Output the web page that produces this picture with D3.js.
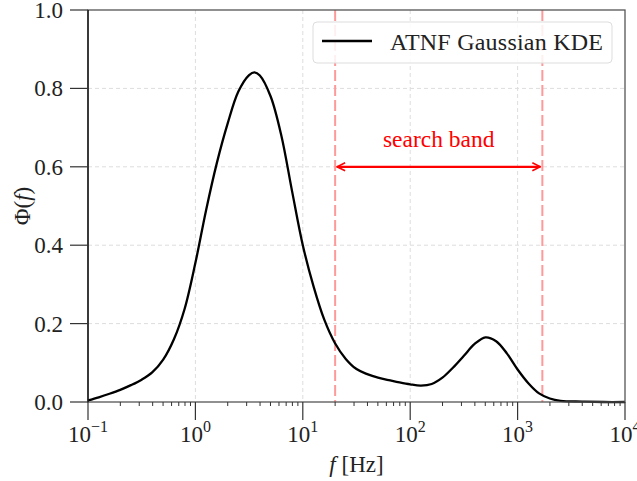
<!DOCTYPE html>
<html>
<head>
<meta charset="utf-8">
<script src="https://cdn.jsdelivr.net/npm/d3@7"></script>
<style>
  body { margin: 0; background: white; }
  svg text { font-family: "Liberation Serif", "DejaVu Serif", serif; }
</style>
</head>
<body>
<div id="chart"></div>
<script>
var width = 637;
var height = 481;
var margin = { left: 88, right: 12, top: 10, bottom: 79 };

// KDE curve: log10(f) and density
var logFreq = [-1.0, -0.9, -0.8, -0.7, -0.6, -0.5, -0.4, -0.3, -0.2, -0.1,
    0.0, 0.1, 0.2, 0.3, 0.4, 0.5, 0.55, 0.6, 0.7, 0.8,
    0.9, 1.0, 1.1, 1.2, 1.3, 1.4, 1.5, 1.6, 1.7, 1.8,
    1.9, 2.0, 2.1, 2.2, 2.3, 2.4, 2.5, 2.6, 2.7, 2.8,
    2.9, 3.0, 3.1, 3.2, 3.3, 3.4, 3.6, 3.8, 4.0];
var density = [0.004, 0.012, 0.021, 0.031, 0.043, 0.057, 0.076, 0.108, 0.160, 0.238,
    0.355, 0.490, 0.610, 0.710, 0.792, 0.834, 0.841, 0.833, 0.780, 0.680,
    0.538, 0.400, 0.295, 0.210, 0.150, 0.110, 0.084, 0.071, 0.062, 0.056,
    0.050, 0.045, 0.042, 0.046, 0.062, 0.088, 0.118, 0.148, 0.165, 0.155,
    0.124, 0.083, 0.048, 0.022, 0.009, 0.003, 0.001, 0.000, 0.000];

var bandLow = 20;
var bandHigh = 1700;
var xTickExp = [-1, 0, 1, 2, 3, 4];
var yTicks = [0.0, 0.2, 0.4, 0.6, 0.8, 1.0];

var svg = d3.select("#chart").append("svg")
    .attr("width", width)
    .attr("height", height)

var x = d3.scaleLog().domain([0.1, 10000]).range([margin.left, width - margin.right])
var y = d3.scaleLinear().domain([0, 1]).range([height - margin.bottom, margin.top])

var plotLeft = margin.left, plotRight = width - margin.right
var plotTop = margin.top, plotBottom = height - margin.bottom

// grid
svg.append("g").selectAll("line")
    .data(xTickExp.slice(1, -1))
    .enter().append("line")
    .attr("x1", function(d) { return x(Math.pow(10, d)); })
    .attr("x2", function(d) { return x(Math.pow(10, d)); })
    .attr("y1", plotTop).attr("y2", plotBottom)
    .style("stroke", "#dddddd").style("stroke-width", 1).style("stroke-dasharray", "4,3")

svg.append("g").selectAll("line")
    .data(yTicks.slice(1, -1))
    .enter().append("line")
    .attr("x1", plotLeft).attr("x2", plotRight)
    .attr("y1", function(d) { return y(d); })
    .attr("y2", function(d) { return y(d); })
    .style("stroke", "#dddddd").style("stroke-width", 1).style("stroke-dasharray", "4,3")

// search band lines
svg.append("g").selectAll("line")
    .data([bandLow, bandHigh])
    .enter().append("line")
    .attr("x1", function(d) { return x(d); })
    .attr("x2", function(d) { return x(d); })
    .attr("y1", plotTop).attr("y2", plotBottom)
    .style("stroke", "#ff9a9a").style("stroke-width", 2).style("stroke-dasharray", "11,4")

// curve
var line = d3.line()
    .x(function(d) { return x(Math.pow(10, d)); })
    .y(function(d, i) { return y(density[i]); })
    .curve(d3.curveCatmullRom.alpha(0.5))

svg.append("path")
    .datum(logFreq)
    .attr("d", line)
    .attr("fill", "none")
    .style("stroke", "black")
    .style("stroke-width", 2.3)

// arrow
var defs = svg.append("defs")
defs.append("marker")
    .attr("id", "head")
    .attr("viewBox", "0 0 10 10")
    .attr("refX", 9).attr("refY", 5)
    .attr("markerWidth", 10).attr("markerHeight", 10)
    .attr("markerUnits", "userSpaceOnUse")
    .attr("orient", "auto-start-reverse")
    .append("path")
    .attr("d", "M1,1 L9,5 L1,9")
    .attr("fill", "none")
    .style("stroke", "red").style("stroke-width", 1.6)

svg.append("line")
    .attr("x1", x(bandLow) + 2).attr("x2", x(bandHigh) - 2)
    .attr("y1", y(0.6)).attr("y2", y(0.6))
    .style("stroke", "red").style("stroke-width", 2.2)
    .attr("marker-start", "url(#head)")
    .attr("marker-end", "url(#head)")

svg.append("text")
    .attr("x", (x(bandLow) + x(bandHigh)) / 2)
    .attr("y", y(0.65))
    .attr("text-anchor", "middle")
    .style("font-size", "23.5px")
    .style("fill", "red")
    .text("search band")

// spines
svg.append("rect")
    .attr("x", plotLeft).attr("y", plotTop)
    .attr("width", plotRight - plotLeft).attr("height", plotBottom - plotTop)
    .attr("fill", "none")
    .style("stroke", "#555555").style("stroke-width", 1.3)
svg.append("line")
    .attr("x1", plotLeft).attr("x2", plotLeft)
    .attr("y1", plotTop).attr("y2", plotBottom)
    .style("stroke", "black").style("stroke-width", 1.2)

// x axis ticks
var xAxis = svg.append("g").attr("class", "xAxis")
var minor = []
for (var e = -1; e < 4; e++) {
    for (var m = 2; m < 10; m++) minor.push(m * Math.pow(10, e))
}
xAxis.selectAll(".minor")
    .data(minor)
    .enter().append("line")
    .attr("class", "minor")
    .attr("x1", function(d) { return x(d); })
    .attr("x2", function(d) { return x(d); })
    .attr("y1", plotBottom).attr("y2", plotBottom + 4)
    .style("stroke", "#333").style("stroke-width", 1)

xAxis.selectAll(".major")
    .data(xTickExp)
    .enter().append("line")
    .attr("class", "major")
    .attr("x1", function(d) { return x(Math.pow(10, d)); })
    .attr("x2", function(d) { return x(Math.pow(10, d)); })
    .attr("y1", plotBottom).attr("y2", plotBottom + 18)
    .style("stroke", "#333").style("stroke-width", 1.2)

var xLabels = xAxis.selectAll(".lbl")
    .data(xTickExp)
    .enter().append("text")
    .attr("class", "lbl")
    .attr("x", function(d) { return x(Math.pow(10, d)); })
    .attr("y", plotBottom + 40)
    .attr("text-anchor", "middle")
    .style("font-size", "23px")
    .style("fill", "#222")
xLabels.append("tspan").text("10")
xLabels.append("tspan")
    .attr("dy", -10)
    .style("font-size", "16px")
    .text(function(d) { return d < 0 ? "\u2212" + (-d) : d; })

// y axis ticks
var yAxis = svg.append("g").attr("class", "yAxis")
yAxis.selectAll("line")
    .data(yTicks)
    .enter().append("line")
    .attr("x1", plotLeft - 18).attr("x2", plotLeft)
    .attr("y1", function(d) { return y(d); })
    .attr("y2", function(d) { return y(d); })
    .style("stroke", "#333").style("stroke-width", 1.2)
yAxis.selectAll("text")
    .data(yTicks)
    .enter().append("text")
    .attr("x", plotLeft - 25)
    .attr("y", function(d) { return y(d) + 8; })
    .attr("text-anchor", "end")
    .style("font-size", "23px")
    .style("fill", "#222")
    .text(function(d) { return d.toFixed(1); })

// axis labels
var xl = svg.append("text")
    .attr("x", (plotLeft + plotRight) / 2)
    .attr("y", plotBottom + 70)
    .attr("text-anchor", "middle")
    .style("font-size", "23px")
    .style("fill", "#222")
xl.append("tspan").style("font-style", "italic").text("f")
xl.append("tspan").text(" [Hz]")

var yl = svg.append("text")
    .attr("transform", "translate(30," + ((plotTop + plotBottom) / 2) + ") rotate(-90)")
    .attr("text-anchor", "middle")
    .style("font-size", "23px")
    .style("fill", "#222")
yl.append("tspan").text("\u03A6(")
yl.append("tspan").style("font-style", "italic").text("f")
yl.append("tspan").text(")")

// legend
var legend = svg.append("g")
legend.append("rect")
    .attr("x", 313).attr("y", 22)
    .attr("width", 299).attr("height", 41)
    .attr("rx", 4)
    .attr("fill", "white").attr("fill-opacity", 0.85)
    .style("stroke", "#dddddd").style("stroke-width", 1)
legend.append("line")
    .attr("x1", 322).attr("x2", 372)
    .attr("y1", 41).attr("y2", 41)
    .style("stroke", "black").style("stroke-width", 2.3)
legend.append("text")
    .attr("x", 390).attr("y", 50)
    .attr("textLength", 213)
    .style("font-size", "24px")
    .style("fill", "#222")
    .text("ATNF Gaussian KDE")
</script>
</body>
</html>
